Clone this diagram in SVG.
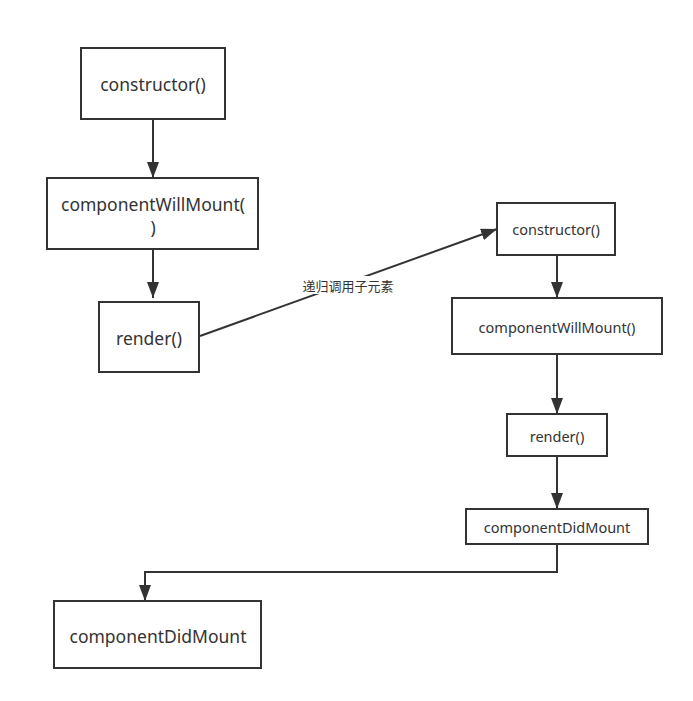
<svg xmlns="http://www.w3.org/2000/svg" width="693" height="701" viewBox="0 0 693 701">
<defs>
<marker id="ah" markerUnits="userSpaceOnUse" markerWidth="16" markerHeight="12" viewBox="0 0 16 12" refX="16" refY="6" orient="auto">
<path d="M0,0 L16,6 L0,12 Z" fill="#333"/>
</marker>
<style>
.box{fill:#fff;stroke:#333;stroke-width:2}
.lg{font-family:"Noto Sans","Open Sans",sans-serif;font-size:17.5px;fill:#333;text-anchor:middle;dominant-baseline:central}
.sm{font-family:"Noto Sans","Open Sans",sans-serif;font-size:14.5px;fill:#333;text-anchor:middle;dominant-baseline:central}
.conn{fill:none;stroke:#333;stroke-width:2;marker-end:url(#ah)}
.lbl{font-family:"Noto Sans CJK SC",sans-serif;font-size:13px;fill:#333;text-anchor:middle;dominant-baseline:central}
</style>
</defs>
<rect width="693" height="701" fill="#fff"/>
<g id="connectors">
<line class="conn" x1="153" y1="119" x2="153" y2="178"/>
<line class="conn" x1="153" y1="249" x2="153" y2="298"/>
<line class="conn" x1="200" y1="336" x2="497" y2="229"/>
<line class="conn" x1="557" y1="255" x2="557" y2="298"/>
<line class="conn" x1="557" y1="354" x2="557" y2="414"/>
<line class="conn" x1="557" y1="456" x2="557" y2="509"/>
<polyline class="conn" points="557,544 557,572 145,572 145,601"/>
<rect x="302" y="276" width="92" height="18" fill="#fff"/>
<text class="lbl" x="348" y="285">递归调用子元素</text>
</g>
<g id="n1"><rect class="box" x="81" y="48" width="144" height="71"/><text class="lg" x="153" y="84">constructor()</text></g>
<g id="n2"><rect class="box" x="47" y="178" width="211" height="71"/><text class="lg" x="153" y="204">componentWillMount(</text><text class="lg" x="153" y="227">)</text></g>
<g id="n3"><rect class="box" x="99" y="302" width="100" height="70"/><text class="lg" x="149" y="338">render()</text></g>
<g id="n4"><rect class="box" x="497" y="203" width="118" height="52"/><text class="sm" x="556" y="229">constructor()</text></g>
<g id="n5"><rect class="box" x="452" y="298" width="210" height="56"/><text class="sm" x="557" y="327">componentWillMount()</text></g>
<g id="n6"><rect class="box" x="507" y="414" width="100" height="42"/><text class="sm" x="557" y="436">render()</text></g>
<g id="n7"><rect class="box" x="466" y="509" width="182" height="35"/><text class="sm" x="557" y="527">componentDidMount</text></g>
<g id="n8"><rect class="box" x="54" y="601" width="207" height="67"/><text class="lg" x="158" y="636">componentDidMount</text></g>
</svg>
